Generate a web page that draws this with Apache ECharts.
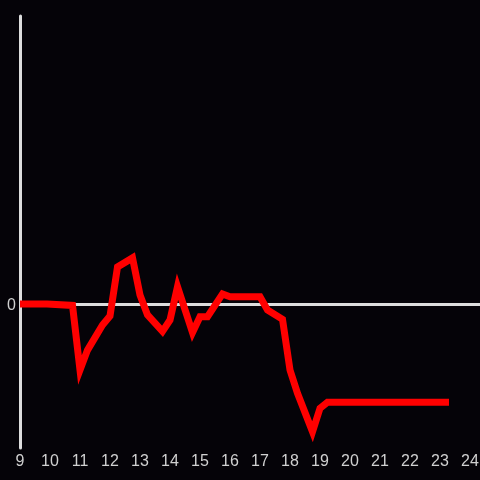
<!DOCTYPE html>
<html><head><meta charset="utf-8">
<script src="https://cdn.jsdelivr.net/npm/echarts@6/dist/echarts.min.js"></script>
<style>html,body{margin:0;padding:0;background:#050308;}#c{width:480px;height:480px;}</style>
</head><body><div id="c"></div>
<script>
const hours = [9.0, 9.9, 10.75, 11.0, 11.25, 11.75, 12.0, 12.25, 12.75, 13.0, 13.25, 13.75, 14.0, 14.25, 14.75, 15.0, 15.25, 15.75, 16.0, 17.0, 17.25, 17.75, 18.0, 18.25, 18.75, 19.0, 19.25, 23.3];
const values = [0, 0, -0.01, -0.458, -0.32, -0.146, -0.083, 0.257, 0.32, 0.0625, -0.076, -0.19, -0.111, 0.12, -0.198, -0.088, -0.088, 0.07, 0.05, 0.05, -0.042, -0.106, -0.458, -0.62, -0.887, -0.724, -0.683, -0.683];
const xTicks = [9,10,11,12,13,14,15,16,17,18,19,20,21,22,23,24];
const yTickShown = [0];

const chart = echarts.init(document.getElementById('c'), null, {renderer:'canvas'});
chart.setOption({
  backgroundColor: '#050308',
  animation: false,
  grid: {left: 20, right: 0, top: 16, bottom: 32, containLabel: false, outerBoundsMode: 'none'},
  xAxis: {
    type: 'value', min: 9, max: 24.333, interval: 1,
    axisLine: {show: false}, axisTick: {show: false}, splitLine: {show: false},
    axisLabel: {color: '#d0d0d0', fontSize: 16, fontFamily: 'Liberation Sans', margin: 6,
      hideOverlap: false,
      formatter: v => xTicks.includes(v) ? String(v) : ''}
  },
  yAxis: {
    type: 'value', min: -1, max: 2, interval: 1,
    axisLine: {show: true, lineStyle: {color: '#dddddd', width: 3}},
    axisTick: {show: false}, splitLine: {show: false},
    axisLabel: {color: '#d0d0d0', fontSize: 16, fontFamily: 'Liberation Sans', margin: 4,
      rich: {a: {color: '#d0d0d0', fontSize: 16, fontFamily: 'Liberation Sans', padding: [4, 0, 0, 0]}},
      formatter: v => yTickShown.includes(v) ? '{a|' + v + '}' : ''}
  },
  series: [{
    type: 'line',
    data: hours.map((h, i) => [h, values[i]]),
    showSymbol: false,
    lineStyle: {color: '#ff0000', width: 7, join: 'miter'},
    itemStyle: {color: '#ff0000'},
    z: 3,
    markLine: {
      silent: true, symbol: 'none', label: {show: false},
      lineStyle: {color: '#dddddd', width: 3, type: 'solid'},
      data: [{yAxis: 0}],
      z: 1
    }
  }]
});
</script></body></html>
